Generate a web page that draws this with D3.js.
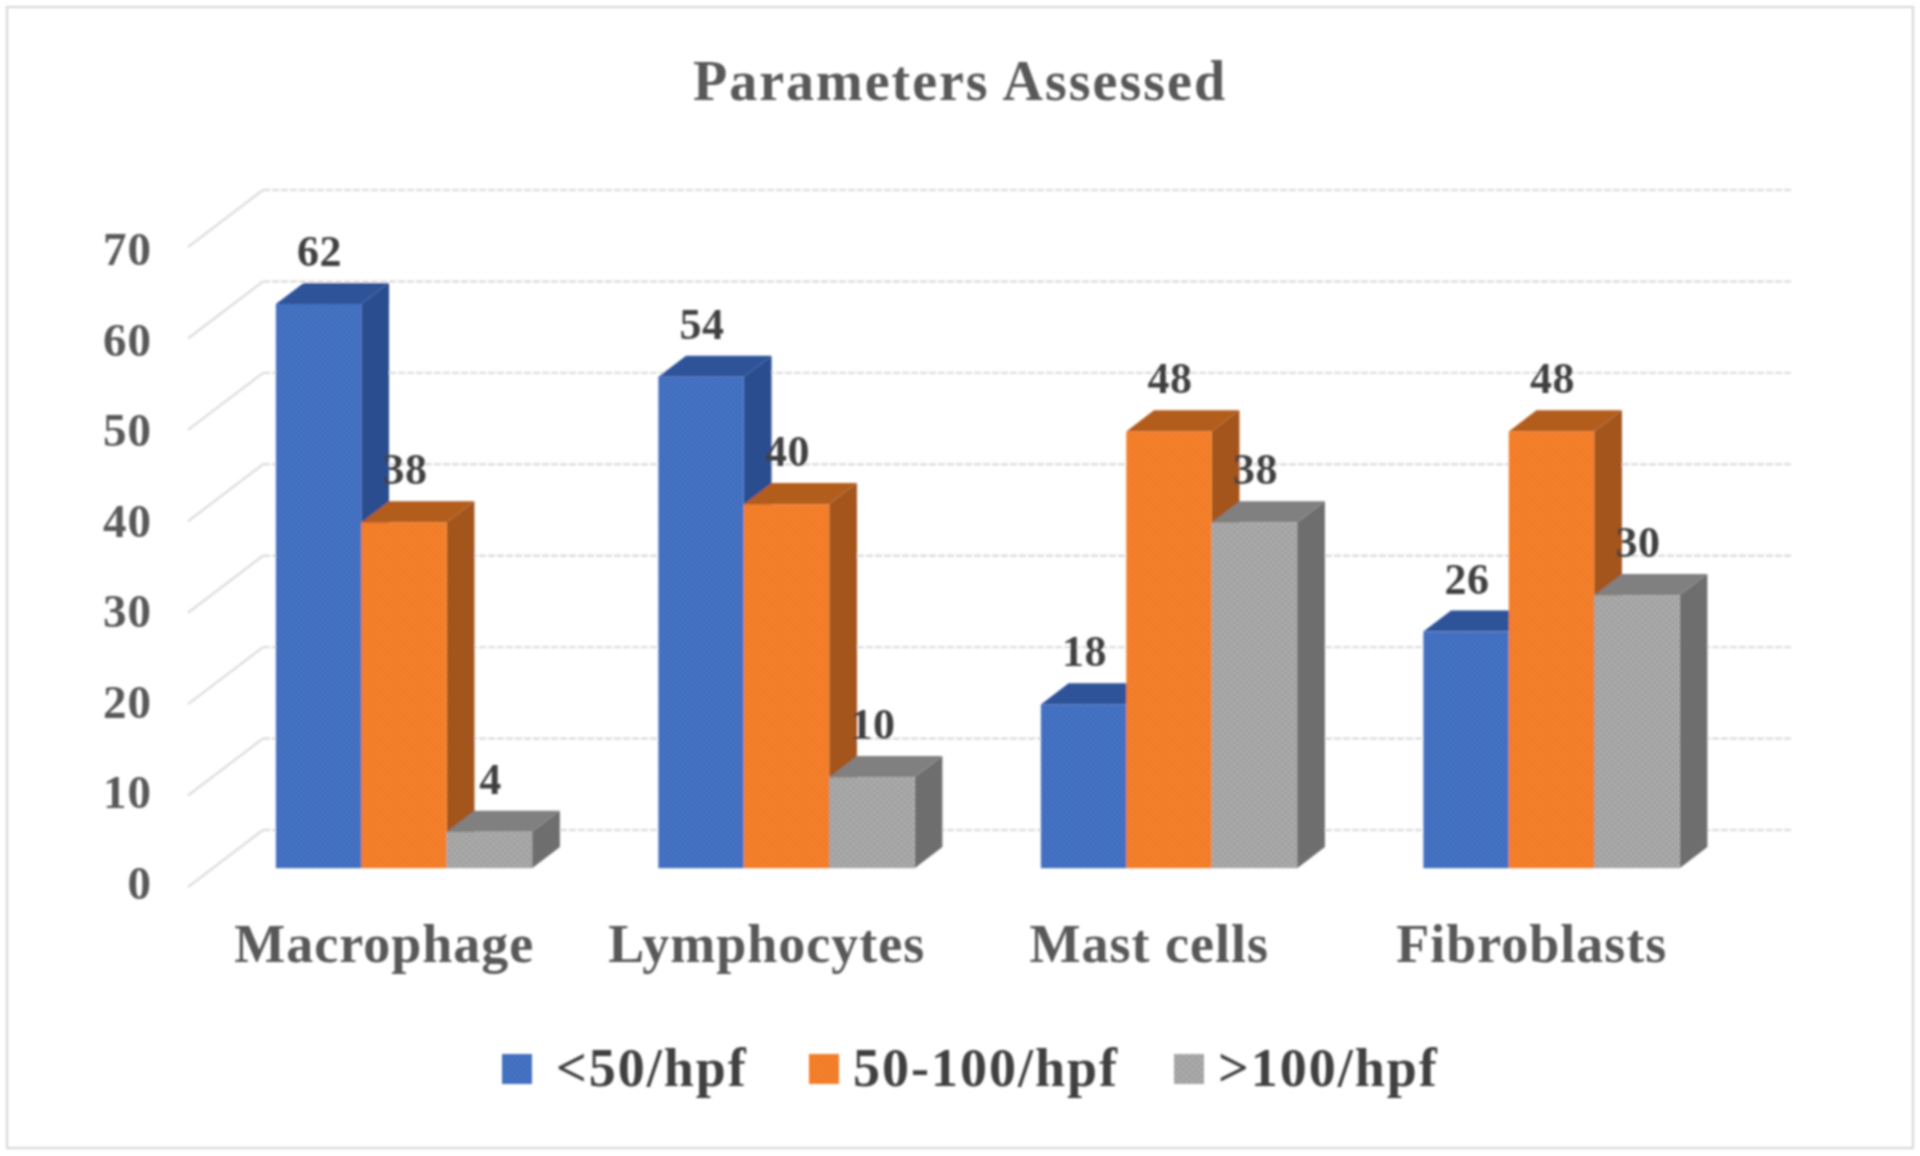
<!DOCTYPE html>
<html><head><meta charset="utf-8">
<script src="https://cdn.jsdelivr.net/npm/d3@7"></script>
<style>html,body{margin:0;padding:0;background:#fff}svg{display:block}
text{font-family:"Liberation Serif",serif;font-weight:bold}</style>
</head><body><svg id="c" width="1920" height="1156"></svg>
<script>
const categories = ["Macrophage","Lymphocytes","Mast cells","Fibroblasts"];
const seriesNames = ["<50/hpf","50-100/hpf",">100/hpf"];
const below50 = [62,54,18,26];
const mid50to100 = [38,40,48,48];
const above100 = [4,10,38,30];
const yTicks = [0,10,20,30,40,50,60,70];
const seriesValues = [below50, mid50to100, above100];
const faceColors = ["#4472c4","#f7802c","#adadad"];
const sideColors = ["#2b4d8f","#a3541b","#6e6e6e"];
const topColors = ["#2f5299","#b35d1f","#808080"];

const W=1920,H=1156;
const svg=d3.select("#c");
const defs=svg.append("defs");
defs.append("filter").attr("id","soft").attr("x","-2%").attr("y","-2%").attr("width","104%").attr("height","104%")
  .append("feGaussianBlur").attr("stdDeviation",1.2);
faceColors.forEach((c,i)=>{
  const p=defs.append("pattern").attr("id","tex"+i).attr("width",6).attr("height",6).attr("patternUnits","userSpaceOnUse");
  p.append("rect").attr("width",6).attr("height",6).attr("fill",c);
  const dk=d3.color(c).darker(i==2?0.25:0.1);
  p.append("rect").attr("width",3).attr("height",3).attr("fill",dk);
  p.append("rect").attr("x",3).attr("y",3).attr("width",3).attr("height",3).attr("fill",dk);
});
svg.append("rect").attr("width",W).attr("height",H).attr("fill","#fff");
const g=svg.append("g").attr("filter","url(#soft)");
g.append("rect").attr("x",7).attr("y",7).attr("width",1906).attr("height",1141)
  .attr("fill","none").attr("stroke","#d6d6d6").attr("stroke-width",2);

// floor-plane geometry: front edge of the box and its oblique depth
const x0=188,x1=1718,yFront=887;
const boxDx=75,boxDy=-57;
const barInset=0.33,barDepth=0.37; // fraction of box depth
const x=d3.scaleBand().domain(categories).range([x0,x1]).paddingInner(0.33).paddingOuter(0.165);
const inner=d3.scaleBand().domain(d3.range(3)).range([0,x.bandwidth()]);
const y=d3.scaleLinear().domain([0,70]).range([0,640]);
const yBar=d3.scaleLinear().domain([0,70]).range([0,637]);
const yLabel=d3.scaleLinear().domain([0,70]).range([0,634]);

function proj(px,h,depth){return [px+boxDx*depth, yFront-h+boxDy*depth];}

// gridlines (walls)
const grid=g.append("g").attr("fill","none").attr("stroke","#dedede").attr("stroke-width",2.4);
yTicks.forEach(t=>{
  const a=proj(x0,y(t),0),b=proj(x0,y(t),1),c=proj(x1,y(t),1);
  grid.append("path").attr("d",d3.line()([a,b]));
  grid.append("path").attr("d",d3.line()([b,c])).attr("stroke-dasharray","7 2");
});

// bars
const poly=d3.line();
const bars=g.append("g");
categories.forEach((cat,ci)=>{
  seriesValues.forEach((vals,si)=>{
    const h=yBar(vals[ci]);
    const l=x(cat)+inner(si), r=l+inner.bandwidth();
    const d0=barInset,d1=barInset+barDepth;
    const A=proj(l,h,d0),B=proj(r,h,d0),C=proj(r,h,d1),D=proj(l,h,d1),E=proj(r,0,d0),F=proj(r,0,d1),G=proj(l,0,d0);
    bars.append("path").attr("d",poly([B,C,F,E])+"Z").attr("fill",sideColors[si]);
    bars.append("path").attr("d",poly([A,B,C,D])+"Z").attr("fill",topColors[si]);
    bars.append("rect").attr("x",A[0]).attr("y",A[1]).attr("width",B[0]-A[0]).attr("height",G[1]-A[1]).attr("fill",`url(#tex${si})`);
  });
});

// value labels
const labels=g.append("g").attr("fill","#404040").attr("font-size",44).attr("letter-spacing",0.5).attr("text-anchor","middle");
categories.forEach((cat,ci)=>{
  seriesValues.forEach((vals,si)=>{
    const v=vals[ci];
    const c=x(cat)+inner(si)+inner.bandwidth()/2+boxDx*barInset;
    const top=proj(0,yBar(v),barInset+barDepth)[1];
    labels.append("text").attr("x",c+1).attr("y",top-17).text(v);
  });
});

// y axis labels
const yl=g.append("g").attr("fill","#595959").attr("font-size",47).attr("letter-spacing",1).attr("text-anchor","end");
yTicks.forEach(t=>{
  yl.append("text").attr("x",152).attr("y",yFront-yLabel(t)+12).text(t);
});

// category labels
const xl=g.append("g").attr("fill","#595959").attr("font-size",54).attr("text-anchor","middle");
categories.forEach(cat=>{
  xl.append("text").attr("x",x(cat)+x.bandwidth()/2+5).attr("y",962).attr("letter-spacing",1).text(cat);
});

// title
g.append("text").attr("x",960).attr("y",100).attr("text-anchor","middle").attr("fill","#595959")
  .attr("font-size",56).attr("letter-spacing",2).text("Parameters Assessed");

// legend
const legendSwatchX=[502,809,1174], legendTextX=[556,853,1218];
const lg=g.append("g");
seriesNames.forEach((n,i)=>{
  lg.append("rect").attr("x",legendSwatchX[i]).attr("y",1054).attr("width",30).attr("height",30).attr("fill",`url(#tex${i})`);
  lg.append("text").attr("x",legendTextX[i]).attr("y",1086).attr("fill","#404040").attr("font-size",54).attr("letter-spacing",2).text(n);
});
</script></body></html>
